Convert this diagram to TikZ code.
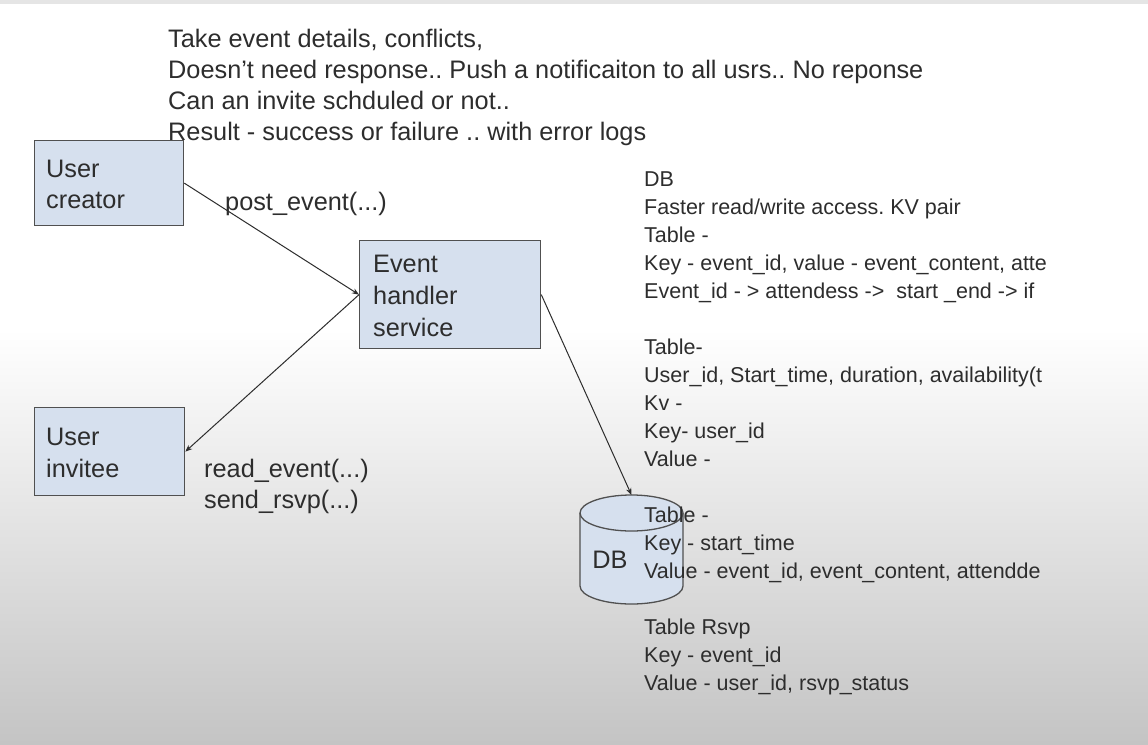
\documentclass[tikz,border=0pt]{standalone}
\usepackage{fontspec}
\setmainfont{Liberation Sans}
\usetikzlibrary{arrows.meta}
\definecolor{boxfill}{RGB}{214,224,238}
\definecolor{boxline}{RGB}{80,80,80}
\definecolor{ink}{RGB}{45,45,45}
\definecolor{bgbottom}{RGB}{196,196,196}
\frenchspacing
\begin{document}
\begin{tikzpicture}[x=1pt,y=-1pt,
  box/.style={draw=boxline,fill=boxfill,line width=1.3pt,inner sep=0pt,anchor=north west},
  big/.style={font=\fontsize{25.3}{32}\selectfont,text=ink,inner sep=0pt,anchor=base west},
  small/.style={font=\fontsize{21.5}{28}\selectfont,text=ink,inner sep=0pt,anchor=base west},
  conn/.style={draw=ink,line width=1pt,-{Stealth[length=7pt,width=5.5pt]}}]
\useasboundingbox (0,0) rectangle (1148,744);
\fill[white] (0,0) rectangle (1148,330);
\shade[top color=white,bottom color=bgbottom] (0,329) rectangle (1148,744);
\fill[gray!20] (0,0) rectangle (1148,4);

% top notes
\node[big] (n1) at (168,47) {Take event details, conflicts,};
\node[big] (n2) at (168,78) {Doesn’t need response.. Push a notificaiton to all usrs.. No reponse};
\node[big] (n3) at (168,109) {Can an invite schduled or not..};
\node[big] (n4) at (168,140) {Result - success or failure .. with error logs};

% boxes
\node[box,minimum width=149pt,minimum height=85pt] (creator) at (34,140) {};
\node[box,minimum width=181pt,minimum height=108pt] (handler) at (359,240) {};
\node[box,minimum width=150pt,minimum height=88pt] (invitee) at (34,407) {};
\node[big] (c1) at (46,177) {User};
\node[big] (c2) at (46,208) {creator};
\node[big] (h1) at (373,272) {Event};
\node[big] (h2) at (373,304) {handler};
\node[big] (h3) at (373,336) {service};
\node[big] (i1) at (46,445) {User};
\node[big] (i2) at (46,477) {invitee};

% DB cylinder
\fill[boxfill] (580,513) -- (580,586) arc (180:360:51.5pt and 18pt) -- (683,513) arc (0:180:51.5pt and 18pt) -- cycle;
\draw[boxline,line width=1.3pt] (580,513) -- (580,586) arc (180:360:51.5pt and 18pt) -- (683,513);
\draw[boxline,line width=1.3pt] (631.5,513) ellipse [x radius=51.5pt, y radius=18pt];
\coordinate (dbtop) at (631.5,495);
\node[font=\fontsize{25.3}{30}\selectfont,text=ink,inner sep=0pt] (dbtext) at (610,560) {DB};

% connectors
\draw[conn] (creator.east) -- (handler.west);
\draw[conn] (handler.west) -- (invitee.east);
\draw[conn] (handler.east) -- (dbtop);

% labels
\node[big] (l1) at (225,210) {post\_event(...)};
\node[big] (l2) at (204,477) {read\_event(...)};
\node[big] (l3) at (204,508) {send\_rsvp(...)};

% right notes
\begin{scope}
\clip (0,0) rectangle (1045,744);
\node[small] (r1) at (644,186) {DB};
\node[small] (r2) at (644,214) {Faster read/write access. KV pair};
\node[small] (r3) at (644,242) {Table -};
\node[small] (r4) at (644,270) {Key - event\_id, value - event\_content, atte};
\node[small] (r5) at (644,298) {Event\_id - > attendess ->\ \ start \_end -> if};
\node[small] (r6) at (644,354) {Table-};
\node[small] (r7) at (644,382) {User\_id, Start\_time, duration, availability(t};
\node[small] (r8) at (644,410) {Kv -};
\node[small] (r9) at (644,438) {Key- user\_id};
\node[small] (r10) at (644,466) {Value -};
\node[small] (r11) at (644,522) {Table -};
\node[small] (r12) at (644,550) {Key - start\_time};
\node[small] (r13) at (644,578) {Value - event\_id, event\_content, attendde};
\node[small] (r14) at (644,634) {Table Rsvp};
\node[small] (r15) at (644,662) {Key - event\_id};
\node[small] (r16) at (644,690) {Value - user\_id, rsvp\_status};
\end{scope}
\end{tikzpicture}
\end{document}
